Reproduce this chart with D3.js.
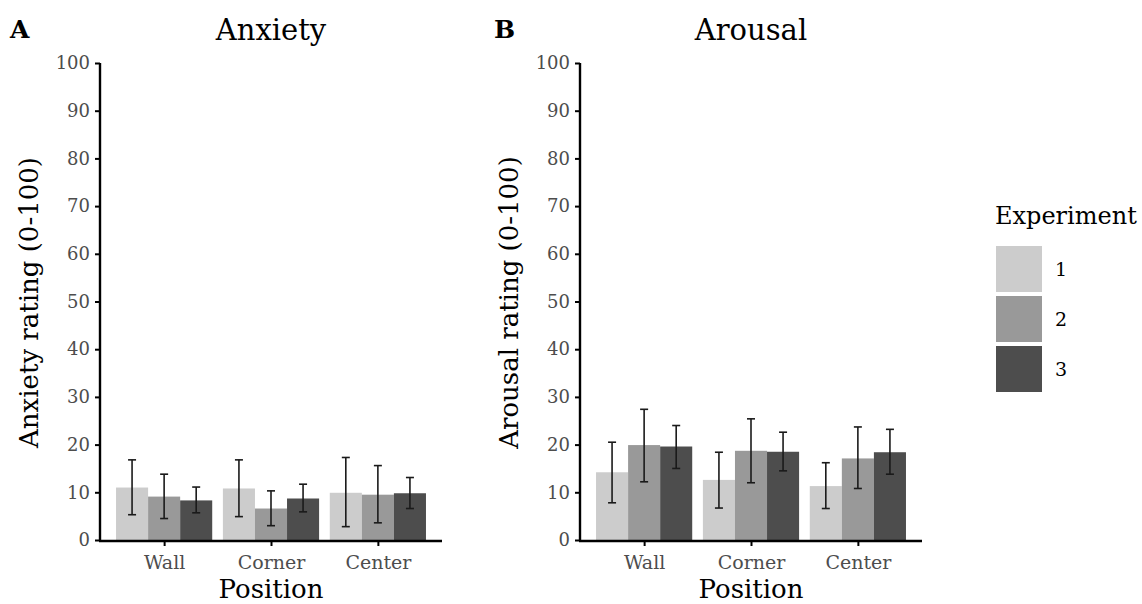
<!DOCTYPE html>
<html>
<meta charset="utf-8">
<script src="https://d3js.org/d3.v7.min.js"></script>
<style>
  body { margin: 0; background: #fff; }
  text { font-family: "DejaVu Serif", serif; }
</style>
<body>
<div id="chart"></div>
<script>
// categories and series
var positions = ["Wall", "Corner", "Center"];
var experiments = ["1", "2", "3"];
var yTicks = [0, 10, 20, 30, 40, 50, 60, 70, 80, 90, 100];

// Anxiety: mean / lower / upper per position x experiment
var anxietyMean  = [[11.0, 9.1, 8.3], [10.8, 6.6, 8.7], [9.9, 9.5, 9.8]];
var anxietyLow   = [[5.3, 4.5, 5.7],  [4.9, 3.0, 5.9],  [2.8, 3.6, 6.6]];
var anxietyHigh  = [[16.8, 13.8, 11.1], [16.8, 10.3, 11.7], [17.3, 15.6, 13.1]];

// Arousal
var arousalMean  = [[14.2, 19.9, 19.6], [12.6, 18.7, 18.5], [11.3, 17.1, 18.4]];
var arousalLow   = [[7.8, 12.2, 15.0],  [6.7, 12.0, 14.5],  [6.6, 10.8, 13.8]];
var arousalHigh  = [[20.5, 27.4, 24.0], [18.4, 25.4, 22.6], [16.2, 23.7, 23.2]];

var fills = ["#cccccc", "#999999", "#4d4d4d"];

var W = 1142, H = 604;
var svg = d3.select("#chart").append("svg")
    .attr("width", W).attr("height", H);

var color = d3.scaleOrdinal().domain(experiments).range(fills);

function panel(opts) {
    var x0 = opts.left, x1 = opts.left + 342;
    var top = 63, bottom = 540;

    var y = d3.scaleLinear().domain([0, 100]).range([bottom, top]);
    // discrete expansion of 0.6 units on each side, like ggplot
    var x = d3.scalePoint().domain(positions).range([x0, x1]).padding(0.6);
    var groupW = x.step() * 0.9;
    var xs = d3.scaleBand().domain(experiments).range([0, groupW]).padding(0);

    var g = svg.append("g");

    // bars
    positions.forEach(function(p, i) {
        experiments.forEach(function(e, j) {
            var bx = x(p) - groupW / 2 + xs(e);
            g.append("rect")
                .attr("x", bx)
                .attr("y", y(opts.mean[i][j]))
                .attr("width", xs.bandwidth())
                .attr("height", y(0) - y(opts.mean[i][j]))
                .attr("fill", color(e));
        });
    });

    // error bars
    positions.forEach(function(p, i) {
        experiments.forEach(function(e, j) {
            var cx = x(p) - groupW / 2 + xs(e) + xs.bandwidth() / 2;
            var lo = y(opts.low[i][j]), hi = y(opts.high[i][j]);
            var cap = 4;
            var eg = g.append("g").attr("stroke", "#1a1a1a").attr("stroke-width", 1.6);
            eg.append("line").attr("x1", cx).attr("x2", cx).attr("y1", lo).attr("y2", hi);
            eg.append("line").attr("x1", cx - cap).attr("x2", cx + cap).attr("y1", lo).attr("y2", lo);
            eg.append("line").attr("x1", cx - cap).attr("x2", cx + cap).attr("y1", hi).attr("y2", hi);
        });
    });

    // y axis
    var ya = g.append("g")
        .attr("transform", "translate(" + x0 + ",0)")
        .call(d3.axisLeft(y).tickValues(yTicks).tickSize(5).tickPadding(5));
    ya.select(".domain").attr("stroke", "#000").attr("stroke-width", 2.4)
        .attr("d", "M0," + top + "V" + (bottom + 1));
    ya.selectAll(".tick line").attr("stroke", "#000").attr("stroke-width", 2);
    ya.selectAll(".tick text").attr("fill", "#4d4d4d")
        .style("font-size", "18px").style("font-family", "DejaVu Serif, serif");

    // x axis
    var xa = g.append("g")
        .attr("transform", "translate(0," + (bottom + 1) + ")")
        .call(d3.axisBottom(x).tickSize(5).tickPadding(10));
    xa.select(".domain").attr("stroke", "#000").attr("stroke-width", 2.4)
        .attr("d", "M" + (x0 - 1) + ",0H" + x1);
    xa.selectAll(".tick line").attr("stroke", "#000").attr("stroke-width", 2);
    xa.selectAll(".tick text").attr("fill", "#4d4d4d")
        .style("font-size", "19px").style("font-family", "DejaVu Serif, serif");

    // titles
    g.append("text")
        .attr("x", (x0 + x1) / 2).attr("y", 40)
        .attr("text-anchor", "middle")
        .style("font-size", "29px")
        .text(opts.title);
    g.append("text")
        .attr("x", opts.tagX).attr("y", 38)
        .style("font-size", "25px").style("font-weight", "bold")
        .text(opts.tag);
    g.append("text")
        .attr("x", (x0 + x1) / 2).attr("y", 598)
        .attr("text-anchor", "middle")
        .style("font-size", "26px")
        .text("Position");
    g.append("text")
        .attr("transform", "translate(" + (x0 - 62) + "," + ((top + bottom) / 2 + 1) + ") rotate(-90)")
        .attr("text-anchor", "middle")
        .style("font-size", "26px")
        .text(opts.ylab);
}

panel({left: 100, title: "Anxiety", tag: "A", tagX: 10, ylab: "Anxiety rating (0-100)",
       mean: anxietyMean, low: anxietyLow, high: anxietyHigh});
panel({left: 580, title: "Arousal", tag: "B", tagX: 494, ylab: "Arousal rating (0-100)",
       mean: arousalMean, low: arousalLow, high: arousalHigh});

// legend
var leg = svg.append("g").attr("transform", "translate(995,0)");
leg.append("text").attr("x", 0).attr("y", 224)
    .style("font-size", "24px").text("Experiment");
experiments.forEach(function(e, i) {
    var ky = 246 + i * 50;
    leg.append("rect").attr("x", 1).attr("y", ky)
        .attr("width", 46).attr("height", 46).attr("fill", color(e));
    leg.append("text").attr("x", 60).attr("y", ky + 23)
        .attr("dominant-baseline", "central")
        .style("font-size", "19px").text(e);
});
</script>
</body>
</html>
